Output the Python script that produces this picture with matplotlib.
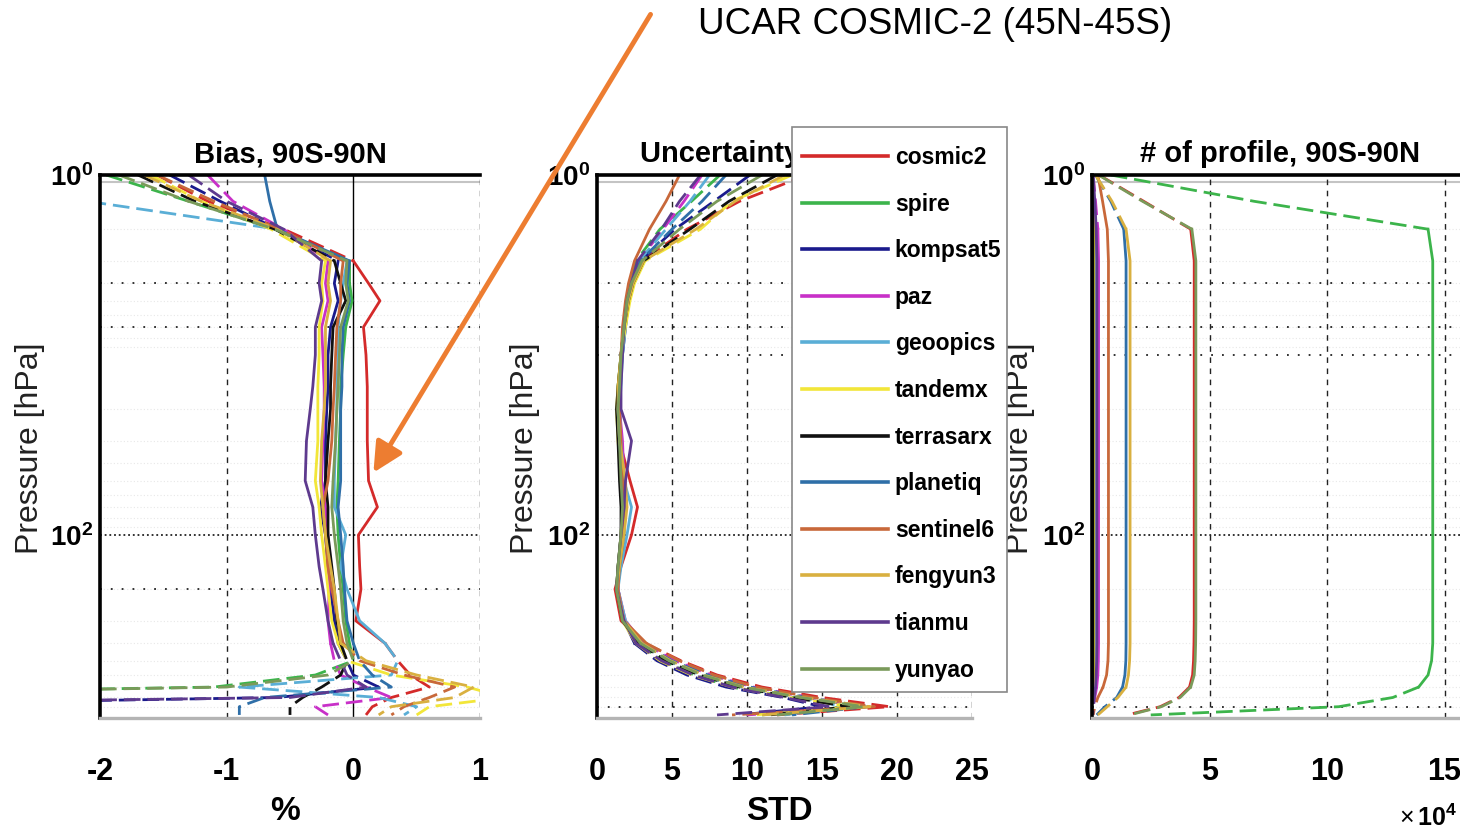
import matplotlib
matplotlib.use("Agg")
import matplotlib.pyplot as plt
from matplotlib.lines import Line2D
from matplotlib.patches import FancyArrowPatch, Rectangle
from matplotlib.ticker import NullLocator
import numpy as np

plt.rcParams['font.family'] = ['Liberation Sans', 'DejaVu Sans']
plt.rcParams['mathtext.fontset'] = 'custom'
plt.rcParams['mathtext.rm'] = 'Liberation Sans'
plt.rcParams['mathtext.bf'] = 'Liberation Sans:bold'

# ---------------- data ----------------
pressure = [1, 1.4, 2, 3, 4, 5, 7, 10, 15, 20, 30, 50, 70, 100, 150, 200,
            300, 400, 500, 600, 700, 800, 900, 1000]

missions = ['cosmic2', 'spire', 'kompsat5', 'paz', 'geoopics', 'tandemx',
            'terrasarx', 'planetiq', 'sentinel6', 'fengyun3', 'tianmu', 'yunyao']
colors = ['#d42a2a', '#3cb44b', '#1a1a8c', '#c830c8', '#5aaed6', '#f2e639',
          '#111111', '#2f6fa8', '#c8683a', '#d9b040', '#5e3a8e', '#7a9a5a']

bias_cosmic2 = [-1.55, -1.15, -0.55, 0.00, 0.12, 0.21, 0.08, 0.10, 0.11, 0.11, 0.11, 0.12, 0.19, 0.04, 0.05, 0.06, 0.02, 0.25, 0.35, 0.45, 0.60, 0.30, 0.15, 0.10]
bias_spire = [-1.95, -1.30, -0.62, -0.03, -0.03, -0.01, -0.06, -0.08, -0.10, -0.10, -0.11, -0.12, -0.13, -0.12, -0.10, -0.08, -0.06, -0.03, 0.00, -0.30, -1.10, -6.0, -6.0, -6.0]
bias_kompsat5 = [-1.45, -1.05, -0.60, -0.12, -0.15, -0.12, -0.18, -0.20, -0.20, -0.21, -0.22, -0.22, -0.26, -0.22, -0.20, -0.18, -0.15, -0.12, -0.05, 0.00, 0.20, -0.60, -5.0, -5.0]
bias_paz = [-1.15, -0.95, -0.55, -0.20, -0.22, -0.20, -0.25, -0.24, -0.23, -0.23, -0.24, -0.25, -0.22, -0.20, -0.20, -0.19, -0.20, -0.18, -0.15, -0.10, 0.10, 0.30, -0.30, -0.20]
bias_geoopics = [-2.60, -2.10, -0.60, -0.05, -0.08, -0.10, -0.12, -0.12, -0.13, -0.13, -0.14, -0.15, -0.15, -0.06, -0.10, -0.05, 0.05, 0.25, 0.35, 0.30, -0.90, 0.20, 0.50, 0.40]
bias_tandemx = [-1.60, -1.20, -0.65, -0.22, -0.25, -0.24, -0.27, -0.27, -0.28, -0.28, -0.28, -0.30, -0.27, -0.25, -0.22, -0.20, -0.17, -0.12, -0.05, 0.30, 0.90, 1.20, 0.60, 0.50]
bias_terrasarx = [-1.70, -1.25, -0.62, -0.15, -0.10, -0.06, -0.16, -0.17, -0.18, -0.18, -0.20, -0.22, -0.20, -0.20, -0.17, -0.15, -0.13, -0.10, -0.05, -0.10, -0.25, -0.40, -0.50, -0.50]
bias_planetiq = [-0.70, -0.66, -0.60, -0.03, -0.05, -0.03, -0.08, -0.09, -0.09, -0.10, -0.10, -0.10, -0.12, -0.10, -0.08, -0.07, -0.05, 0.00, 0.05, 0.15, 0.30, -0.70, -0.90, -0.90]
bias_sentinel6 = [-1.55, -1.10, -0.58, -0.08, -0.10, -0.10, -0.13, -0.14, -0.15, -0.16, -0.17, -0.20, -0.24, -0.22, -0.20, -0.17, -0.12, -0.08, 0.05, 0.40, 0.80, 0.60, 0.40, 0.30]
bias_fengyun3 = [-1.65, -1.20, -0.60, -0.18, -0.20, -0.18, -0.22, -0.22, -0.22, -0.23, -0.25, -0.26, -0.24, -0.22, -0.18, -0.15, -0.12, -0.10, 0.10, 0.50, 0.95, 0.80, 0.30, 0.20]
bias_tianmu = [-1.30, -1.00, -0.55, -0.25, -0.27, -0.25, -0.30, -0.30, -0.32, -0.34, -0.37, -0.38, -0.32, -0.30, -0.27, -0.24, -0.20, -0.16, -0.10, -0.05, 0.10, -0.50, -6.0, -6.0]
bias_yunyao = [-1.85, -1.30, -0.62, -0.05, -0.06, -0.04, -0.10, -0.11, -0.12, -0.13, -0.14, -0.16, -0.17, -0.15, -0.12, -0.10, -0.08, -0.05, 0.00, -0.20, -1.00, -6.0, -6.0, -6.0]

std_cosmic2 = [14.0, 9.5, 6.0, 3.0, 2.3, 2.0, 1.8, 1.6, 1.5, 1.4, 1.5, 2.2, 2.7, 2.3, 1.6, 1.2, 1.6, 3.2, 5.6, 8.0, 11.0, 15.0, 19.5, 12.0]
std_spire = [8.2, 6.3, 4.2, 2.6, 2.2, 2.0, 1.8, 1.6, 1.4, 1.4, 1.5, 1.6, 1.7, 1.6, 1.4, 1.3, 1.8, 2.7, 4.4, 6.5, 9.0, 13.0, 17.0, 11.0]
std_kompsat5 = [10.2, 7.8, 5.2, 2.9, 2.3, 2.1, 1.9, 1.7, 1.5, 1.5, 1.6, 1.7, 1.8, 1.7, 1.5, 1.4, 1.8, 2.5, 4.0, 6.0, 8.6, 12.4, 15.0, 9.5]
std_paz = [7.0, 5.8, 4.4, 2.8, 2.3, 2.0, 1.8, 1.6, 1.5, 1.5, 1.7, 1.8, 1.8, 1.7, 1.5, 1.4, 1.9, 3.1, 5.2, 7.6, 10.4, 14.2, 17.5, 10.0]
std_geoopics = [7.5, 6.2, 4.6, 2.8, 2.3, 2.1, 1.9, 1.7, 1.6, 1.5, 1.6, 1.8, 2.3, 2.0, 1.6, 1.4, 1.9, 2.9, 4.7, 6.9, 9.6, 13.4, 16.5, 12.5]
std_tandemx = [13.0, 9.0, 6.9, 3.2, 2.5, 2.2, 1.9, 1.6, 1.4, 1.3, 1.4, 1.6, 1.7, 1.6, 1.4, 1.3, 1.7, 2.6, 4.2, 6.3, 9.0, 12.8, 17.0, 10.5]
std_terrasarx = [12.0, 8.8, 6.2, 3.1, 2.4, 2.1, 1.8, 1.6, 1.4, 1.3, 1.4, 1.5, 1.6, 1.6, 1.4, 1.3, 1.7, 2.8, 4.6, 6.8, 9.5, 13.0, 16.8, 11.5]
std_planetiq = [8.6, 7.0, 5.0, 2.9, 2.3, 2.0, 1.8, 1.6, 1.5, 1.4, 1.5, 1.7, 1.9, 1.8, 1.5, 1.3, 1.8, 3.0, 5.0, 7.4, 10.2, 14.0, 18.0, 13.0]
std_sentinel6 = [5.5, 4.6, 3.5, 2.5, 2.1, 1.9, 1.7, 1.6, 1.5, 1.5, 1.6, 1.7, 1.8, 1.7, 1.5, 1.4, 1.8, 3.3, 5.5, 7.8, 10.6, 14.4, 18.5, 9.0]
std_fengyun3 = [12.5, 9.2, 6.6, 3.1, 2.4, 2.1, 1.8, 1.6, 1.4, 1.4, 1.5, 1.9, 2.0, 1.8, 1.5, 1.3, 1.8, 3.0, 4.9, 7.1, 9.8, 13.7, 18.2, 11.0]
std_tianmu = [6.9, 5.5, 4.3, 2.7, 2.3, 2.0, 1.8, 1.7, 1.6, 1.6, 2.3, 1.9, 1.8, 1.6, 1.4, 1.3, 1.8, 2.6, 4.3, 6.4, 9.0, 12.5, 15.5, 8.0]
std_yunyao = [11.0, 8.0, 5.5, 3.0, 2.3, 2.0, 1.8, 1.6, 1.5, 1.4, 1.5, 1.6, 1.7, 1.6, 1.4, 1.3, 1.7, 2.9, 4.8, 7.0, 9.7, 13.6, 17.8, 12.0]

# number of profiles, in units of 10^4
cnt_cosmic2 = [0.30, 2.20, 4.20, 4.35, 4.35, 4.35, 4.35, 4.35, 4.35, 4.35, 4.35, 4.35, 4.35, 4.35, 4.35, 4.35, 4.35, 4.34, 4.32, 4.28, 4.15, 3.70, 2.90, 1.50]
cnt_spire = [0.80, 6.90, 14.3, 14.5, 14.5, 14.5, 14.5, 14.5, 14.5, 14.5, 14.5, 14.5, 14.5, 14.5, 14.5, 14.5, 14.5, 14.5, 14.45, 14.3, 13.9, 12.8, 10.5, 2.50]
cnt_kompsat5 = [0.02, 0.04, 0.05, 0.06, 0.06, 0.06, 0.06, 0.06, 0.06, 0.06, 0.06, 0.06, 0.06, 0.06, 0.06, 0.06, 0.06, 0.06, 0.06, 0.05, 0.05, 0.04, 0.03, 0.02]
cnt_paz = [0.05, 0.15, 0.25, 0.28, 0.28, 0.28, 0.28, 0.28, 0.28, 0.28, 0.28, 0.28, 0.28, 0.28, 0.28, 0.28, 0.28, 0.28, 0.27, 0.25, 0.20, 0.12, 0.05, 0.02]
cnt_geoopics = [0.03, 0.08, 0.11, 0.12, 0.12, 0.12, 0.12, 0.12, 0.12, 0.12, 0.12, 0.12, 0.12, 0.12, 0.12, 0.12, 0.12, 0.12, 0.11, 0.10, 0.08, 0.05, 0.02, 0.01]
cnt_tandemx = [0.02, 0.05, 0.07, 0.08, 0.08, 0.08, 0.08, 0.08, 0.08, 0.08, 0.08, 0.08, 0.08, 0.08, 0.08, 0.08, 0.08, 0.08, 0.08, 0.07, 0.06, 0.04, 0.02, 0.01]
cnt_terrasarx = [0.01, 0.03, 0.04, 0.04, 0.04, 0.04, 0.04, 0.04, 0.04, 0.04, 0.04, 0.04, 0.04, 0.04, 0.04, 0.04, 0.04, 0.04, 0.04, 0.04, 0.03, 0.02, 0.01, 0.01]
cnt_planetiq = [0.15, 0.80, 1.35, 1.45, 1.45, 1.45, 1.45, 1.45, 1.45, 1.45, 1.45, 1.45, 1.45, 1.45, 1.45, 1.45, 1.45, 1.45, 1.44, 1.40, 1.30, 1.05, 0.55, 0.20]
cnt_sentinel6 = [0.25, 0.45, 0.65, 0.70, 0.70, 0.70, 0.70, 0.70, 0.70, 0.70, 0.70, 0.70, 0.70, 0.70, 0.70, 0.70, 0.70, 0.70, 0.68, 0.62, 0.47, 0.25, 0.12, 0.05]
cnt_fengyun3 = [0.15, 0.85, 1.45, 1.62, 1.62, 1.62, 1.62, 1.62, 1.62, 1.62, 1.62, 1.62, 1.62, 1.62, 1.62, 1.62, 1.62, 1.62, 1.60, 1.55, 1.45, 1.10, 0.65, 0.25]
cnt_tianmu = [0.05, 0.12, 0.18, 0.21, 0.21, 0.21, 0.21, 0.21, 0.21, 0.21, 0.21, 0.21, 0.21, 0.21, 0.21, 0.21, 0.21, 0.21, 0.20, 0.18, 0.15, 0.10, 0.06, 0.03]
cnt_yunyao = [0.28, 2.15, 4.25, 4.42, 4.42, 4.42, 4.42, 4.42, 4.42, 4.42, 4.42, 4.42, 4.42, 4.42, 4.42, 4.42, 4.42, 4.41, 4.39, 4.35, 4.20, 3.75, 2.95, 1.60]

bias = [bias_cosmic2, bias_spire, bias_kompsat5, bias_paz, bias_geoopics, bias_tandemx,
        bias_terrasarx, bias_planetiq, bias_sentinel6, bias_fengyun3, bias_tianmu, bias_yunyao]
std = [std_cosmic2, std_spire, std_kompsat5, std_paz, std_geoopics, std_tandemx,
       std_terrasarx, std_planetiq, std_sentinel6, std_fengyun3, std_tianmu, std_yunyao]
cnt = [cnt_cosmic2, cnt_spire, cnt_kompsat5, cnt_paz, cnt_geoopics, cnt_tandemx,
       cnt_terrasarx, cnt_planetiq, cnt_sentinel6, cnt_fengyun3, cnt_tianmu, cnt_yunyao]

titles = ['Bias, 90S-90N', 'Uncertainty, 90S-90N', '# of profile, 90S-90N']
xlabels = ['%', 'STD', '']
xlims = [(-2, 1), (0, 25), (0, 16)]
xticks = [[-2, -1, 0, 1], [0, 5, 10, 15, 20, 25], [0, 5, 10, 15]]
# pressure range drawn solid (outside: dashed)
solid_range = [(3, 400), (3, 400), (2, 700)]
# series whose upper part is drawn solid too
solid_top = [['planetiq'], ['sentinel6'], ['sentinel6', 'tianmu', 'tandemx', 'terrasarx', 'kompsat5']]
dotted_levels = [[4, 7, 100, 200], [4, 7, 10, 100, 900], [4, 7, 10, 100, 900]]

# ---------------- figure ----------------
W, H = 1460, 833
fig = plt.figure(figsize=(W / 100, H / 100), dpi=100)

def fx(px):
    return px / W

def fy(py):
    return 1 - py / H

ax_left = [100, 597, 1092]
ax_right = [480, 972, 1468]
ax_top, ax_bot = 175, 718

P = np.array(pressure, dtype=float)
datasets = [bias, std, cnt]
LW = 2.0
DASH = (0, (6, 2.5))

for k in range(3):
    ax = fig.add_axes([fx(ax_left[k]), fy(ax_bot), fx(ax_right[k] - ax_left[k]),
                       (ax_bot - ax_top) / H])
    ax.set_yscale('log')
    ax.set_ylim(1040, 1)
    ax.set_xlim(*xlims[k])
    ax.yaxis.set_minor_locator(NullLocator())
    ax.set_yticks([1, 100])
    ax.set_yticklabels([r'$\mathbf{10^{0}}$', r'$\mathbf{10^{2}}$'])
    ax.set_xticks(xticks[k])
    ax.set_xticklabels([str(t) for t in xticks[k]])
    ax.tick_params(axis='x', length=0, labelsize=22, pad=28)
    ax.tick_params(axis='y', length=0, labelsize=20, pad=5)
    for lab in ax.get_xticklabels():
        lab.set_fontweight('bold')

    # faint minor grid
    for dec in [1, 10, 100]:
        for m in range(2, 10):
            ax.axhline(dec * m, color='#e8e8e8', lw=0.8, ls=(0, (1, 2)), zorder=0.5)
    for lv in dotted_levels[k]:
        pat = (0, (1, 1.6)) if lv in (100,) else (0, (1, 5))
        ax.axhline(lv, color='#222222', lw=1.3, ls=pat, zorder=0.8)
    ax.axhline(1.09, color='#c4c4c4', lw=1.5, zorder=0.8)
    for xt in xticks[k][1:]:
        if k == 0 and xt == 0:
            ax.axvline(0, color='k', lw=1.0, zorder=0.8)
        else:
            ax.axvline(xt, color='#222222', lw=1.0, ls=(0, (4, 4)), zorder=0.8)

    lo, hi = solid_range[k]
    for name, col, vals in zip(missions, colors, datasets[k]):
        x = np.array(vals, dtype=float)
        lo_i = 0.5 if name in solid_top[k] else lo
        top = P <= lo_i
        mid = (P >= lo_i) & (P <= hi)
        bot = P >= hi
        if top.sum() > 1:
            ax.plot(x[top], P[top], color=col, lw=LW, ls=DASH)
        ax.plot(x[mid], P[mid], color=col, lw=LW)
        ax.plot(x[bot], P[bot], color=col, lw=LW, ls=DASH)

    for s in ['top', 'left']:
        ax.spines[s].set_linewidth(2.6)
        ax.spines[s].set_color('black')
    ax.spines['bottom'].set_color('#b4b4b4')
    ax.spines['bottom'].set_linewidth(2.4)
    ax.spines['right'].set_visible(False)

    ax.set_title(titles[k], fontsize=21, fontweight='bold', pad=9)
    if xlabels[k]:
        fig.text(fx((ax_left[k] + ax_right[k]) / 2 - 5), fy(812), xlabels[k],
                 fontsize=24, fontweight='bold', ha='center', va='center')

# y labels
for xpx in [30, 525, 1020]:
    fig.text(fx(xpx), fy(448), 'Pressure [hPa]', rotation=90, fontsize=23,
             ha='center', va='center', color='#222222')

# offset text of panel 3
fig.text(fx(1457), fy(818), r'$\times\,\mathbf{10^{4}}$', fontsize=18,
         ha='right', va='center')

# legend box (frame drawn separately so it can be sized like the original)
frame = Rectangle((fx(792), fy(692)), fx(1007 - 792), (692 - 127) / H,
                  transform=fig.transFigure, facecolor='white',
                  edgecolor='#888888', lw=1.2, zorder=4)
fig.add_artist(frame)
handles = [Line2D([], [], color=c, lw=2.6) for c in colors]
leg = fig.legend(handles, missions, loc='upper left',
                 bbox_to_anchor=(fx(802), fy(146)), borderaxespad=0,
                 handlelength=3.75, handletextpad=0.3,
                 labelspacing=1.03, borderpad=0.0, frameon=False,
                 prop={'weight': 'bold', 'size': 16.5})
leg.set_zorder(5)

# annotation
fig.text(fx(698), fy(25), 'UCAR COSMIC-2 (45N-45S)', fontsize=26.5,
         ha='left', va='center')
arrow = FancyArrowPatch((fx(652), fy(12)), (fx(372), fy(475)),
                        transform=fig.transFigure, arrowstyle='-|>',
                        mutation_scale=45, color='#ed7d31', lw=3.5, zorder=20)
fig.add_artist(arrow)

fig.savefig('out.png', dpi=100)
